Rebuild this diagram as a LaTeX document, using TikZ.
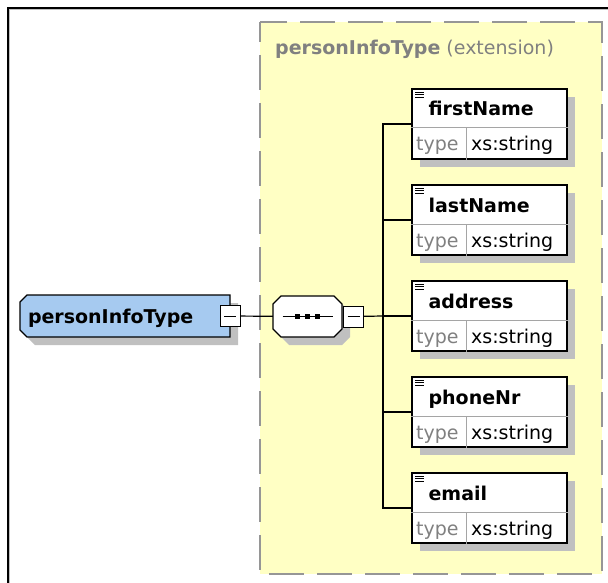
\documentclass[tikz,border=0pt]{standalone}
\usepackage{fontspec}
\setmainfont{DejaVu Sans}
\usetikzlibrary{shadows,positioning}

\definecolor{typeblue}{RGB}{166,202,240}
\definecolor{extyellow}{RGB}{255,255,196}
\definecolor{dashgray}{RGB}{150,150,150}
\definecolor{shadowgray}{RGB}{192,192,192}
\definecolor{labelgray}{RGB}{128,128,128}
\definecolor{cellgray}{RGB}{165,165,165}

\newcommand{\xsdfont}{\fontsize{19}{22}\selectfont}

\tikzset{
	shade8/.style={drop shadow={shadow xshift=8pt,shadow yshift=-8pt,fill=shadowgray,opacity=1}},
	typenode/.style={rectangle,minimum width=210pt,minimum height=42pt,text width=194pt,inner xsep=8pt,
		text depth=0pt,align=left,font=\xsdfont\bfseries},
	seqnode/.style={rectangle,minimum width=69pt,minimum height=41pt,inner sep=0pt},
	minusbox/.style={rectangle,draw,line width=1pt,fill=white,minimum width=20pt,minimum height=21pt,inner sep=0pt,
		path picture={\draw[line width=1pt] ([xshift=4pt]path picture bounding box.west) -- ([xshift=-4pt]path picture bounding box.east);}},
	elembox/.style={rectangle,draw,line width=1.2pt,fill=white,minimum width=155pt,minimum height=70pt,inner sep=0pt,shade8},
	cellline/.style={cellgray,line width=1pt},
	conn/.style={line width=1.2pt},
	extbox/.style={dashgray,line width=1.5pt,fill=extyellow,dash pattern=on 35pt off 13pt,dash phase=15pt}
}

\begin{document}
\begin{tikzpicture}[x=1pt,y=-1pt,font=\xsdfont]
	\useasboundingbox (0,0) rectangle (608,583);

	% Draw outer frame
	\draw[line width=2pt] (8,583) -- (8,8) -- (608,8);
	\draw[shadowgray,line width=1pt] (9.5,583) -- (9.5,9.5) -- (608,9.5);

	% Draw extension box
	\draw[extbox] (260,22) rectangle (602,574);
	\node[anchor=base west,text=labelgray,inner sep=0pt] (title) at (275,55) {\textbf{personInfoType} (extension)};

	% Draw type shape
	\fill[shadowgray,shift={(8,8)}] (27,295) -- (230,295) -- (230,337) -- (27,337) -- (20,330) -- (20,302) -- cycle;
	\filldraw[fill=typeblue,line width=1.2pt] (27,295) -- (230,295) -- (230,337) -- (27,337) -- (20,330) -- (20,302) -- cycle;
	\node[typenode] (root) at (125,316) {personInfoType};
	\node[minusbox] (rbox) at (root.east) {};

	% Draw sequence shape
	\fill[shadowgray,shift={(8,8)}] (281,296) -- (334,296) -- (342,304) -- (342,329) -- (334,337) -- (281,337) -- (273,329) -- (273,304) -- cycle;
	\filldraw[fill=white,line width=1.2pt] (281,296) -- (334,296) -- (342,304) -- (342,329) -- (334,337) -- (281,337) -- (273,329) -- (273,304) -- cycle;
	\node[seqnode] (seq) at (307.5,316.5) {};
	\draw[line width=1.2pt] ([xshift=-25pt]seq.center) -- ([xshift=25pt]seq.center);
	\foreach \d in {-10pt,0pt,10pt}
		\fill ([xshift=\d]seq.center) +(-2.5,-2.5) rectangle +(2.5,2.5);
	\node[minusbox,right=1pt of seq.east] (sbox) {};
	\coordinate (bus) at (383,316);

	% Connect them
	\draw[conn] (rbox) -- (seq);
	\draw[conn] (sbox) -- (bus);

	% Draw elements
	\foreach \nm [count=\i] in {firstName,lastName,address,phoneNr,email}{
		\node[elembox] (el\i) at (489.5,28+96*\i) {};
		\draw[cellline] ([yshift=-4pt]el\i.west) -- ([yshift=-4pt]el\i.east);
		\draw[cellline] ([xshift=55pt,yshift=-4pt]el\i.west) -- ([xshift=55pt]el\i.south west);
		\foreach \d in {4pt,6.5pt,9pt}
			\draw[line width=0.9pt] ([xshift=4pt,yshift=-\d]el\i.north west) -- ++(9,0);
		\node[anchor=base west,inner sep=0pt] (nm\i) at ([xshift=17pt,yshift=8pt]el\i.west) {\textbf{\nm}};
		\node[anchor=base west,inner sep=0pt,text=labelgray] (ty\i) at ([xshift=4.5pt,yshift=-27pt]el\i.west) {type};
		\node[anchor=base west,inner sep=0pt] (xs\i) at ([xshift=59.5pt,yshift=-27pt]el\i.west) {xs:string};
		\draw[conn] (bus) |- (el\i);
	}
\end{tikzpicture}
\end{document}
